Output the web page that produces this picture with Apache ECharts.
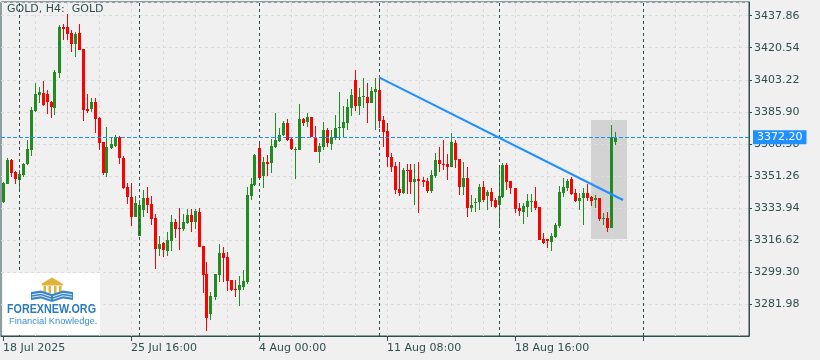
<!DOCTYPE html>
<html><head><meta charset="utf-8">
<script src="https://cdn.jsdelivr.net/npm/echarts@6/dist/echarts.min.js"></script>
<style>html,body{margin:0;padding:0;background:#f0f0f0}#c{width:820px;height:360px}</style>
</head><body><div id="c"></div>
<script>
const symbolTitle = 'GOLD, H4:  GOLD';
const xTickLabels = ['18 Jul 2025', '25 Jul 16:00', '4 Aug 00:00', '11 Aug 08:00', '18 Aug 16:00'];
const barsPerTick = 32;
const totalSlots = 187;
const yMin = 3264.66, yMax = 3445.27, yStep = 17.32;
const bidPrice = 3372.20;
const trendStart = [94, 3404.55];
const trendEnd = [155, 3338.2];
const boxFrom = [147, 3381.5];
const boxTo = [156, 3317.1];
const weekSeparators = [4, 34, 64, 94, 124, 160];

const open = [
3337.1,3346.9,3359.8,3353.3,3349.0,3351.7,3357.5,3365.2,3386.5,3395.0,
3396.2,3395.4,3391.4,3388.1,3407.0,3431.6,3431.6,3428.7,3422.6,3428.7,
3420.0,3387.4,3387.4,3391.0,3382.3,3369.7,3352.6,3366.2,3367.6,3372.1,
3360.8,3345.1,3340.0,3329.2,3318.7,3332.8,3339.1,3336.0,3328.5,3311.7,
3314.8,3310.8,3316.0,3326.3,3323.1,3322.4,3325.9,3330.3,3326.3,3331.9,
3313.3,3298.2,3276.6,3285.9,3297.7,3309.4,3307.2,3295.0,3290.1,3289.6,
3291.3,3294.0,3340.4,3346.3,3366.2,3351.3,3358.6,3358.1,3366.7,3370.3,
3373.4,3379.7,3371.2,3365.4,3365.2,3382.0,3380.5,3382.9,3372.1,3364.3,
3367.0,3376.1,3368.5,3371.6,3377.0,3377.3,3380.0,3388.1,3403.1,3389.0,
3394.1,3394.1,3390.8,3396.8,3397.7,3381.5,3375.5,3361.6,3356.8,3344.2,
3341.8,3354.4,3354.4,3347.8,3349.6,3349.0,3348.5,3343.1,3351.3,3359.8,
3357.7,3357.7,3356.2,3369.2,3360.4,3345.4,3350.3,3334.1,3336.4,3337.0,
3345.4,3340.5,3342.7,3338.2,3335.5,3340.0,3357.1,3348.5,3344.9,3334.1,
3331.9,3334.6,3337.3,3337.7,3334.4,3317.1,3317.1,3315.7,3318.4,3324.3,
3342.2,3344.9,3349.6,3341.8,3337.8,3339.1,3342.2,3339.7,3338.2,3339.1,
3327.9,3328.3,3322.9,3369.7];
const close = [
3347.4,3359.8,3353.0,3349.6,3352.3,3357.7,3365.8,3386.9,3395.5,3396.8,
3389.6,3391.4,3388.5,3407.6,3431.6,3430.8,3428.0,3422.6,3428.0,3419.3,
3386.9,3386.5,3391.0,3382.2,3369.2,3352.6,3366.9,3368.5,3372.4,3360.8,
3344.9,3340.0,3329.2,3336.4,3335.5,3339.1,3335.5,3327.9,3311.7,3314.3,
3311.2,3316.6,3326.3,3322.7,3322.5,3326.5,3330.3,3326.2,3332.3,3312.6,
3297.7,3274.6,3286.3,3298.2,3309.4,3307.0,3294.6,3289.6,3289.6,3292.1,
3294.6,3340.9,3346.9,3362.5,3349.9,3358.6,3357.7,3367.4,3370.7,3373.4,
3379.7,3370.7,3365.6,3365.8,3382.0,3380.0,3383.3,3372.4,3364.3,3367.4,
3376.1,3368.9,3372.4,3377.0,3377.8,3380.5,3388.7,3395.0,3389.2,3394.1,
3394.6,3390.8,3397.2,3398.2,3380.9,3375.1,3361.6,3356.2,3343.6,3342.2,
3354.4,3353.9,3347.8,3349.6,3348.5,3347.8,3343.1,3351.7,3359.8,3357.7,
3357.3,3355.9,3369.7,3359.8,3345.4,3350.3,3334.1,3335.5,3337.3,3345.4,
3338.2,3342.7,3337.7,3334.6,3340.4,3357.1,3348.1,3344.5,3333.3,3332.3,
3335.1,3337.7,3337.7,3334.1,3316.6,3315.1,3316.0,3318.9,3324.7,3342.4,
3345.4,3348.5,3341.5,3337.8,3339.5,3342.2,3339.1,3337.7,3339.5,3327.9,
3328.3,3323.2,3372.4,3372.2];
const low = [
3336.6,3346.9,3350.8,3346.9,3343.6,3350.8,3357.1,3362.2,3386.0,3390.5,
3389.2,3384.6,3382.7,3384.0,3404.3,3424.7,3424.7,3418.4,3415.7,3419.3,
3381.1,3385.1,3386.0,3374.3,3365.2,3351.7,3350.8,3365.6,3367.0,3357.7,
3344.2,3335.9,3324.3,3329.2,3318.7,3329.2,3331.0,3324.7,3301.1,3307.9,
3307.6,3307.9,3310.8,3317.5,3311.2,3321.6,3325.1,3321.1,3322.4,3312.6,
3288.1,3267.4,3273.3,3284.1,3294.0,3293.7,3289.2,3289.0,3285.9,3281.1,
3289.6,3292.8,3338.2,3345.8,3349.6,3344.5,3351.3,3352.6,3366.2,3369.7,
3372.8,3370.1,3365.2,3349.4,3365.2,3378.2,3377.8,3372.4,3364.3,3358.1,
3365.2,3366.7,3365.2,3370.7,3370.7,3371.6,3376.1,3383.6,3386.5,3384.2,
3387.8,3380.0,3390.5,3376.1,3377.0,3367.0,3356.2,3353.5,3341.3,3340.5,
3341.3,3341.5,3341.5,3335.5,3331.0,3345.1,3342.2,3342.2,3349.9,3353.2,
3354.4,3349.0,3356.2,3355.4,3340.9,3340.9,3329.2,3331.6,3331.9,3332.8,
3337.3,3332.8,3334.6,3333.7,3322.9,3339.1,3343.6,3341.5,3331.3,3329.7,
3325.2,3329.2,3331.9,3332.8,3316.6,3314.3,3312.4,3310.8,3317.8,3322.9,
3340.0,3343.1,3340.9,3337.3,3332.8,3324.7,3337.7,3335.1,3334.1,3326.9,
3324.7,3321.1,3322.9,3368.0];
const high = [
3347.9,3360.9,3360.4,3354.1,3354.4,3358.2,3370.7,3388.5,3401.6,3399.5,
3402.7,3397.7,3391.9,3408.3,3432.8,3433.2,3438.8,3430.1,3429.2,3433.4,
3420.0,3395.5,3393.2,3393.2,3383.0,3369.7,3377.5,3371.6,3373.4,3372.8,
3362.2,3347.6,3347.2,3340.4,3338.2,3343.6,3345.1,3340.4,3330.6,3318.7,
3315.5,3321.1,3330.1,3327.8,3333.9,3330.6,3333.2,3333.2,3333.2,3333.7,
3313.3,3304.7,3288.6,3298.2,3314.3,3312.6,3310.3,3295.0,3295.0,3297.1,
3300.4,3345.4,3349.9,3363.1,3368.9,3361.6,3362.5,3371.2,3385.1,3377.0,
3380.9,3381.8,3372.3,3367.0,3390.0,3382.7,3385.4,3383.3,3378.2,3368.9,
3380.5,3377.0,3376.1,3384.2,3396.8,3389.2,3392.7,3398.1,3408.5,3398.9,
3404.0,3401.6,3399.5,3404.0,3404.6,3383.8,3380.0,3363.5,3358.9,3358.6,
3355.7,3357.7,3357.7,3357.7,3358.6,3350.8,3349.9,3354.4,3363.5,3367.0,
3370.7,3362.9,3374.3,3370.7,3360.4,3358.9,3356.2,3340.9,3339.5,3346.7,
3348.5,3343.6,3344.5,3339.5,3357.1,3358.0,3358.0,3348.5,3344.9,3336.4,
3336.8,3341.5,3341.5,3345.4,3334.4,3320.2,3317.1,3320.2,3325.6,3345.9,
3349.9,3349.4,3350.8,3344.2,3341.8,3344.5,3346.7,3340.4,3340.9,3339.5,
3331.0,3331.6,3378.8,3375.0];

const DARK = '#2f4f4f';
const GREEN = '#228b22';
const RED = '#ff0000';
const cats = Array.from({length: totalSlots}, (_, i) => String(i));
const candles = open.map((o, i) => [i, o, close[i], low[i], high[i]]);
const gridCols = [];
for (let i = 8; i < totalSlots; i += 8) gridCols.push({xAxis: String(i)});

function renderCandle(params, api) {
  const idx = api.value(0);
  const o = api.value(1), c = api.value(2), l = api.value(3), h = api.value(4);
  const pO = api.coord([idx, o]), pC = api.coord([idx, c]);
  const pH = api.coord([idx, h]), pL = api.coord([idx, l]);
  const cx = Math.floor(pO[0]);
  const color = c >= o ? GREEN : RED;
  const bt = Math.round(Math.min(pO[1], pC[1]));
  const bb = Math.max(Math.round(Math.max(pO[1], pC[1])), bt + 1);
  const wt = Math.round(pH[1]);
  const wb = Math.max(Math.round(pL[1]), wt + 1);
  return {type: 'group', children: [
    {type: 'rect', shape: {x: cx, y: wt, width: 1, height: wb - wt}, style: {fill: color}},
    {type: 'rect', shape: {x: cx - 1, y: bt, width: 3, height: bb - bt}, style: {fill: color}}
  ]};
}

const chart = echarts.init(document.getElementById('c'));
chart.setOption({
  animation: false,
  backgroundColor: '#f0f0f0',
  textStyle: {fontFamily: 'DejaVu Sans'},
  title: {text: symbolTitle, left: 7, top: 4, padding: 0,
    textStyle: {fontSize: 11, fontWeight: 'normal', color: DARK, fontFamily: 'DejaVu Sans'}},
  grid: {left: 1, top: 2, width: 748, height: 334, show: true, borderColor: DARK, borderWidth: 1, backgroundColor: 'transparent'},
  xAxis: {
    type: 'category', data: cats, boundaryGap: true,
    axisLine: {show: true, lineStyle: {color: DARK}},
    axisTick: {show: true, alignWithLabel: true, length: 5, interval: (i) => i % barsPerTick === 0, lineStyle: {color: DARK}},
    axisLabel: {show: true, interval: (i) => i % barsPerTick === 0 && i / barsPerTick < xTickLabels.length,
      formatter: (v) => xTickLabels[Number(v) / barsPerTick] || '', align: 'left', color: DARK, fontSize: 11, margin: 7, fontFamily: 'DejaVu Sans'},
    splitLine: {show: false}
  },
  yAxis: {
    type: 'value', position: 'right', min: yMin, max: yMax, interval: yStep,
    axisLine: {show: true, lineStyle: {color: DARK}},
    axisTick: {show: true, length: 3, lineStyle: {color: DARK}},
    axisLabel: {color: DARK, fontSize: 11, margin: 5, showMinLabel: false, showMaxLabel: false,
      formatter: (v) => v.toFixed(2), fontFamily: 'DejaVu Sans'},
    splitLine: {show: true, lineStyle: {color: '#dcdcdc', type: [3, 3]}}
  },
  series: [
    {type: 'line', data: [], z: 1, silent: true, clip: false,
      markArea: {silent: true, z: -1, itemStyle: {color: '#d3d3d3'},
        data: [[{coord: [String(boxFrom[0]), boxFrom[1]]}, {coord: [String(boxTo[0]), boxTo[1]]}]]}},
    {type: 'line', data: [], z: 1, silent: true, clip: false,
      markLine: {silent: true, z: 0, symbol: ['none', 'none'], label: {show: false},
        lineStyle: {color: '#dcdcdc', type: [3, 3], width: 1}, data: gridCols}},
    {type: 'custom', data: candles, z: 2, silent: true, clip: false,
      encode: {x: 0, y: [1, 2, 3, 4]}, renderItem: renderCandle},
    {type: 'line', data: [], z: 3, silent: true, clip: false,
      markLine: {silent: true, z: 5, symbol: ['none', 'none'], label: {show: false},
        data: [
          ...weekSeparators.map(i => ({xAxis: String(i), lineStyle: {color: DARK, type: [3, 3], width: 1}})),
          {yAxis: bidPrice, lineStyle: {color: '#1e90ff', type: [4, 2], width: 1},
            label: {show: true, position: 'end', distance: 4, formatter: bidPrice.toFixed(2), color: '#ffffff',
              backgroundColor: '#1e90ff', padding: [1, 4, 1, 4], fontSize: 11, lineHeight: 12, fontFamily: 'DejaVu Sans'}},
          [{coord: [String(trendStart[0]), trendStart[1]], lineStyle: {color: '#1e90ff', type: 'solid', width: 2}},
           {coord: [String(trendEnd[0]), trendEnd[1]]}]
        ]}}
  ],
  graphic: [
    {type: 'rect', shape: {x: 3, y: 273, width: 97, height: 62}, style: {fill: '#ffffff'}, z: 100},
    {type: 'polygon', shape: {points: [[41, 284], [52, 277.5], [63, 284]]}, style: {fill: '#e3b23c'}, z: 101},
    {type: 'rect', shape: {x: 42, y: 284, width: 21, height: 1.5}, style: {fill: '#e3b23c'}, z: 101},
    {type: 'rect', shape: {x: 43.5, y: 286, width: 2.5, height: 7}, style: {fill: '#e3b23c'}, z: 101},
    {type: 'rect', shape: {x: 48.5, y: 286, width: 2.5, height: 7}, style: {fill: '#e3b23c'}, z: 101},
    {type: 'rect', shape: {x: 54, y: 286, width: 2.5, height: 7}, style: {fill: '#e3b23c'}, z: 101},
    {type: 'rect', shape: {x: 59, y: 286, width: 2.5, height: 7}, style: {fill: '#e3b23c'}, z: 101},
    {type: 'polygon', shape: {points: [[31, 292], [41, 290.5], [52, 294], [52, 302], [41, 298.5], [31, 300]]}, style: {fill: '#3a86c8'}, z: 101},
    {type: 'polygon', shape: {points: [[52, 294], [63, 290.5], [73, 292], [73, 300], [63, 298.5], [52, 302]]}, style: {fill: '#3a86c8'}, z: 101},
    {type: 'polyline', shape: {points: [[32, 294.7], [41, 293.3], [51, 296.6]]}, style: {stroke: '#ffffff', lineWidth: 0.8, fill: null}, z: 102},
    {type: 'polyline', shape: {points: [[32, 297.2], [41, 295.8], [51, 299.2]]}, style: {stroke: '#ffffff', lineWidth: 0.8, fill: null}, z: 102},
    {type: 'polyline', shape: {points: [[53, 296.6], [63, 293.3], [72, 294.7]]}, style: {stroke: '#ffffff', lineWidth: 0.8, fill: null}, z: 102},
    {type: 'polyline', shape: {points: [[53, 299.2], [63, 295.8], [72, 297.2]]}, style: {stroke: '#ffffff', lineWidth: 0.8, fill: null}, z: 102},
    {type: 'text', x: 7, y: 303.5, scaleX: 0.86, z: 102,
      style: {text: 'FOREXNEW.ORG', fill: '#2b7bbf', font: 'bold 12.5px "Liberation Sans"', verticalAlign: 'top'}},
    {type: 'text', x: 9, y: 316.5, z: 102,
      style: {text: 'Financial Knowledge.', fill: '#3a8fd6', font: '9.3px "Liberation Sans"', verticalAlign: 'top'}}
  ]
});
</script>
</body></html>
